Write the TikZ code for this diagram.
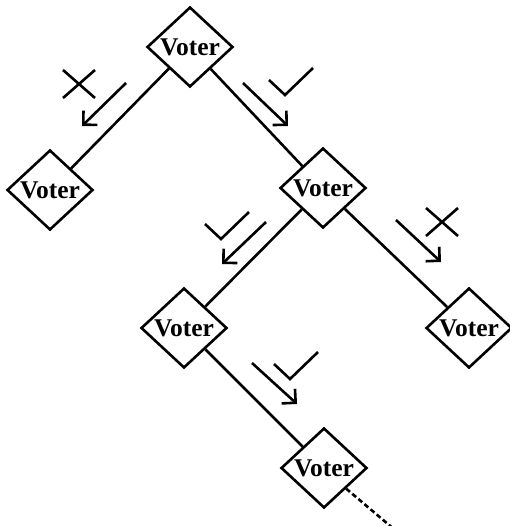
\documentclass[tikz,border=0pt]{standalone}
\usepackage{fontspec}
\setmainfont{Liberation Serif}
\usetikzlibrary{shapes.geometric,arrows.meta}

\tikzset{
  yes/.pic={\draw[sign] (-16,-15) -- (0,0) -- (28,-27);},
  no/.pic={\draw[sign] (-16,-14) -- (16,14) (-16,14) -- (16,-14);}
}

\begin{document}
\begin{tikzpicture}[x=1pt,y=-1pt,
  voter/.style={draw,shape=diamond,line width=2.6pt,minimum width=86pt,minimum height=80pt,inner sep=0pt,font=\fontsize{25.5}{26}\selectfont\bfseries},
  link/.style={line width=2.6pt},
  pass/.style={line width=2.6pt,-{Straight Barb[angle=90:14pt,sharp]}},
  sign/.style={line width=2.6pt}]
\useasboundingbox (0,0) rectangle (509,526);
% the voters
\node[voter] (T) at (190,47)  {Voter};
\node[voter] (L) at (50,190)  {Voter};
\node[voter] (M) at (323,188) {Voter};
\node[voter] (A) at (184,328) {Voter};
\node[voter] (B) at (469,328) {Voter};
\node[voter] (C) at (324,468) {Voter};
\coordinate (tail) at (395,530);
\draw[link] (T) -- (L);
\draw[link] (T) -- (M);
\draw[link] (M) -- (A);
\draw[link] (M) -- (B);
\draw[link] (A) -- (C);
\draw[link,dash pattern=on 5pt off 3pt] (C.south east) -- (tail);
% passing the vote on
\coordinate (a1) at (126,83);  \coordinate (b1) at (82,126);
\coordinate (a2) at (243,83);  \coordinate (b2) at (288,126);
\coordinate (a3) at (266,222); \coordinate (b3) at (222,264);
\coordinate (a4) at (396,220); \coordinate (b4) at (441,262);
\coordinate (a5) at (252,363); \coordinate (b5) at (297,404);
\foreach \i in {1,...,5}
  \draw[pass] (a\i) -- (b\i);
\pic at (79,84)   {no};
\pic at (285,95)  {yes};
\pic at (221,239) {yes};
\pic at (442,222) {no};
\pic at (290,379) {yes};
\end{tikzpicture}
\end{document}
